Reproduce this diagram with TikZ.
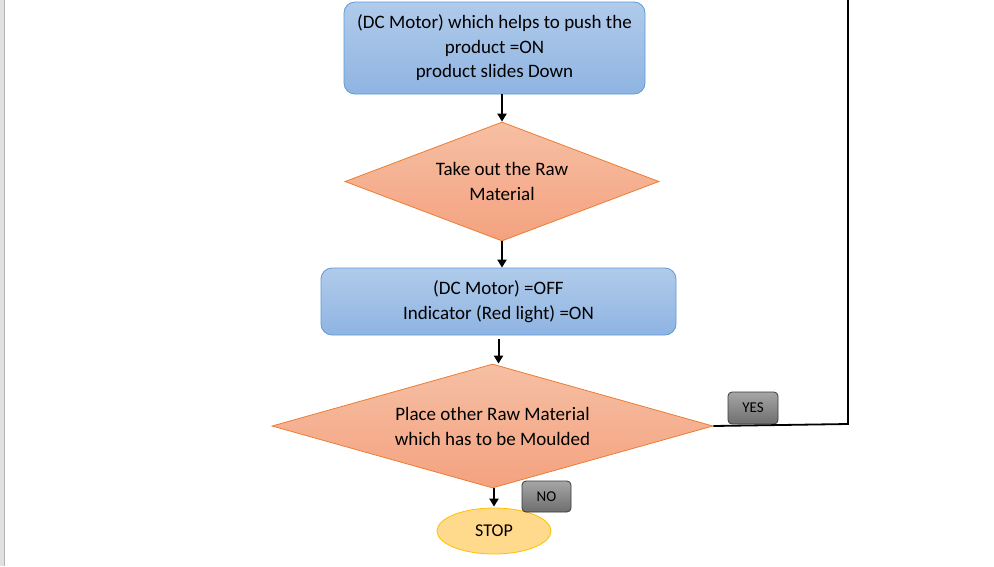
\documentclass[tikz,border=0pt]{standalone}
\usepackage{fontspec}
\setmainfont{Carlito}
\usetikzlibrary{shapes.geometric,arrows.meta}
\definecolor{boxtop}{HTML}{B0CBEA}
\definecolor{boxbot}{HTML}{8FB4E2}
\definecolor{boxline}{HTML}{5B9BD5}
\definecolor{diatop}{HTML}{F6BFA4}
\definecolor{diabot}{HTML}{F4A27F}
\definecolor{dialine}{HTML}{ED7D31}
\definecolor{stopfill}{HTML}{FFD98C}
\definecolor{stopline}{HTML}{FFC000}
\definecolor{btntop}{HTML}{A6A6A6}
\definecolor{btnbot}{HTML}{6E6E6E}
\definecolor{btnline}{HTML}{3A3A3A}
\definecolor{leftgray}{HTML}{E1E1E1}
\definecolor{leftline}{HTML}{B4B4B4}
\tikzset{
  procbox/.style={rectangle, rounded corners=11pt, draw=boxline, line width=0.8pt,
    top color=boxtop, bottom color=boxbot, align=center, inner sep=0pt,
    font=\fontsize{19}{24.5}\selectfont},
  decision/.style={diamond, draw=dialine, line width=0.8pt, top color=diatop,
    bottom color=diabot, align=center, inner sep=0pt,
    font=\fontsize{19}{25}\selectfont},
  terminal/.style={ellipse, draw=stopline, line width=0.8pt, fill=stopfill,
    inner sep=0pt, font=\fontsize{18}{20}\selectfont},
  btn/.style={rectangle, rounded corners=4pt, draw=btnline, line width=0.8pt,
    top color=btntop, bottom color=btnbot, inner sep=0pt,
    font=\fontsize{15}{16}\selectfont},
  arr/.style={-{Triangle[length=8pt,width=9pt]}, line width=2pt, black},
  link/.style={line width=1.8pt, black}
}
\begin{document}
\begin{tikzpicture}[x=1pt,y=-1pt]
\useasboundingbox (0,0) rectangle (994,566);
\fill[leftgray] (0,0) rectangle (4,566);
\draw[leftline, line width=1.2pt] (4.6,0) -- (4.6,566);

\node[procbox, minimum width=301pt, minimum height=92pt] (b1) at (494.5,48)
  {(DC Motor) which helps to push the\\product =ON\\product slides Down};
\node[decision, aspect=2.64, minimum width=314pt, minimum height=119pt] (d1) at (502,181.5)
  {Take out the Raw\\Material};
\node[procbox, minimum width=355pt, minimum height=67pt] (b2) at (498.5,301.5)
  {(DC Motor) =OFF\\Indicator (Red light) =ON};
\node[decision, aspect=3.56, minimum width=441pt, minimum height=124pt] (d2) at (492.5,426)
  {Place other Raw Material\\which has to be Moulded};
\node[terminal, minimum width=114pt, minimum height=46pt] (stop) at (494,531) {STOP};
\node[btn, minimum width=49pt, minimum height=31pt] (no) at (546.5,496.5) {NO};
\node[btn, minimum width=50pt, minimum height=32pt] (yes) at (753,408) {YES};

\coordinate (c1) at (848,424);
\coordinate (c2) at (848,-2);

\draw[arr] (d1.north |- b1.south) -- (d1.north);
\draw[arr] (d1.south) -- (d1.south |- b2.north);
\draw[arr] ([yshift=-4pt]b2.south) -- (b2.south |- d2.north);
\draw[arr] ([xshift=1.5pt]d2.south) -- ([yshift=1pt]stop.north);
\draw[link] (d2.east) -- (c1) -- (c2);
\end{tikzpicture}
\end{document}
